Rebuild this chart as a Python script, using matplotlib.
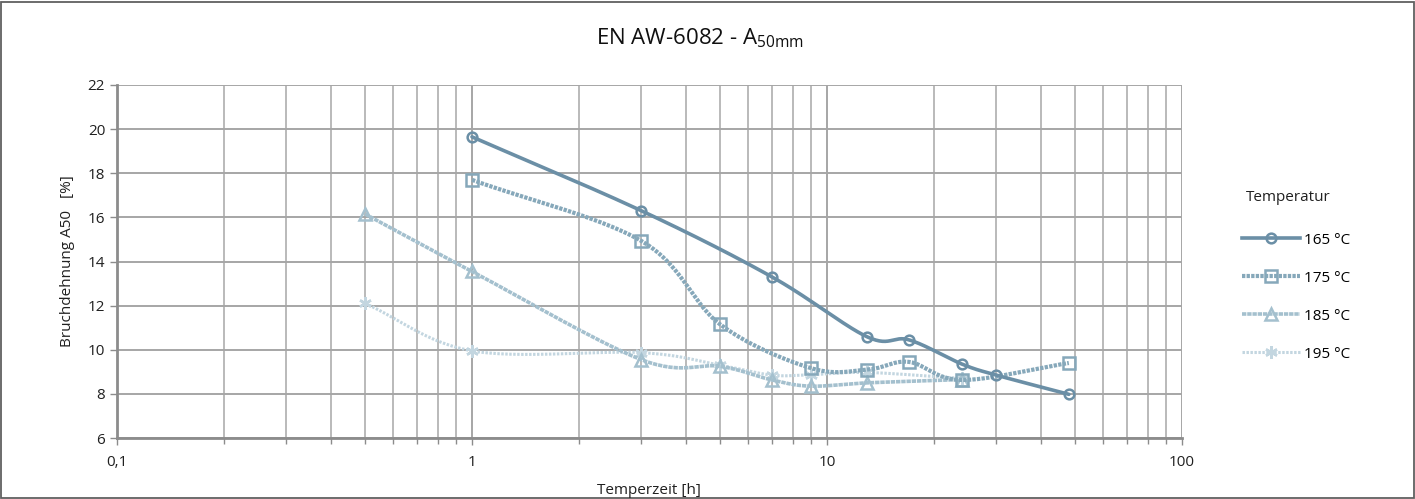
import numpy as np
import matplotlib
matplotlib.use("Agg")
import matplotlib.pyplot as plt
from matplotlib.lines import Line2D
from matplotlib.patches import Rectangle

plt.rcParams['font.family'] = ['Open Sans', 'DejaVu Sans']

# ---- data ----
series_names = ["165 °C", "175 °C", "185 °C", "195 °C"]
x_165 = [1, 3, 7, 13, 17, 24, 30, 48]
y_165 = [19.65, 16.3, 13.3, 10.58, 10.45, 9.35, 8.85, 7.98]
x_175 = [1, 3, 5, 9, 13, 17, 24, 48]
y_175 = [17.7, 14.93, 11.15, 9.17, 9.1, 9.45, 8.63, 9.4]
x_185 = [0.5, 1, 3, 5, 7, 9, 13, 24]
y_185 = [16.15, 13.55, 9.55, 9.25, 8.63, 8.35, 8.5, 8.65]
x_195 = [0.5, 1, 3, 5, 7, 9, 13, 24]
y_195 = [12.1, 9.95, 9.87, 9.3, 8.85, 8.87, 8.97, 8.7]
x_ticks = [0.1, 1, 10, 100]
x_ticklabels = ["0,1", "1", "10", "100"]
y_ticks = [6, 8, 10, 12, 14, 16, 18, 20, 22]


def smooth(xs, ys, n=30):
    """Catmull-Rom curve through the points in (log x, y) space for drawing."""
    lx = np.log10(np.asarray(xs, float))
    yy = np.asarray(ys, float)
    P = np.column_stack([lx, yy])
    P = np.vstack([P[0] - (P[1] - P[0]), P, P[-1] + (P[-1] - P[-2])])
    out = []
    for i in range(1, len(P) - 2):
        p0, p1, p2, p3 = P[i - 1], P[i], P[i + 1], P[i + 2]
        t = np.linspace(0, 1, n)[:, None]
        c = 0.5 * ((2 * p1) + (-p0 + p2) * t + (2 * p0 - 5 * p1 + 4 * p2 - p3) * t ** 2
                   + (-p0 + 3 * p1 - 3 * p2 + p3) * t ** 3)
        out.append(c if i == 1 else c[1:])
    c = np.vstack(out)
    return 10 ** c[:, 0], c[:, 1]


fig = plt.figure(figsize=(14.15, 4.99), dpi=100)
W, H = 1415, 499
ax = fig.add_axes([117 / W, 1 - 438 / H, (1182 - 117) / W, (438 - 85) / H])

# outer chart border
fig.patches.append(Rectangle((1.5 / W, 1.5 / H), 1 - 3 / W, 1 - 3 / H, transform=fig.transFigure,
                             fill=False, edgecolor='#606060', linewidth=1.3))

ax.set_xscale('log')
ax.set_xlim(0.1, 100)
ax.set_ylim(6, 22)
ax.set_xticks(x_ticks)
ax.set_xticklabels(x_ticklabels)
ax.set_yticks(y_ticks)
ax.xaxis.set_minor_locator(matplotlib.ticker.LogLocator(base=10, subs=np.arange(2, 10)))
ax.xaxis.set_minor_formatter(matplotlib.ticker.NullFormatter())

ax.grid(True, which='major', axis='both', color='#a6a6a6', linewidth=1.4)
ax.grid(True, which='minor', axis='x', color='#b4b4b4', linewidth=1.3)
ax.set_axisbelow(True)
for s in ['top', 'right']:
    ax.spines[s].set_visible(False)
for s in ['left', 'bottom']:
    ax.spines[s].set_color('#8c8c8c')
    ax.spines[s].set_linewidth(2)
ax.tick_params(axis='both', which='major', direction='out', length=5, width=1, color='#8c8c8c',
               labelsize=11, labelcolor='#202020')
ax.tick_params(axis='x', which='minor', direction='out', length=4, width=1, color='#8c8c8c')
ax.tick_params(axis='x', pad=7)

styles = [
    dict(color='#6b8fa6', lw=2.6, ls='-', marker='o', ms=7, mew=1.8),
    dict(color='#86a8ba', lw=3.0, ls=(0, (0.8, 0.3)), marker='s', ms=8, mew=1.8),
    dict(color='#a4c0ce', lw=2.6, ls=(0, (1.2, 0.25)), marker='^', ms=8, mew=1.8),
    dict(color='#c3d6e0', lw=2.2, ls=(0, (0.8, 0.5)), marker=(6, 2, 0), ms=9, mew=1.8),
]
data = [(x_165, y_165), (x_175, y_175), (x_185, y_185), (x_195, y_195)]
handles = []
for (xs, ys), st, name in zip(data[::-1], styles[::-1], series_names[::-1]):
    sx, sy = smooth(xs, ys)
    ax.plot(sx, sy, color=st['color'], lw=st['lw'], ls=st['ls'], solid_capstyle='round')
    ax.plot(xs, ys, ls='none', marker=st['marker'], ms=st['ms'], mew=st['mew'],
            mec=st['color'], mfc='none' if st['marker'] != (6, 2, 0) else st['color'])
for st, name in zip(styles, series_names):
    handles.append(Line2D([], [], color=st['color'], lw=st['lw'], ls=st['ls'], marker=st['marker'],
                          ms=st['ms'], mew=st['mew'], mec=st['color'],
                          mfc='none' if st['marker'] != (6, 2, 0) else st['color']))

fig.text(649 / W, 1 - 490 / H, 'Temperzeit [h]', ha='center', va='center', fontsize=11,
         color='#202020')
ax.set_ylabel('Bruchdehnung A50   [%]', fontsize=11, color='#202020', labelpad=9)
fig.text(700 / W, 1 - 38 / H, r'EN AW-6082 - A$_{\mathregular{50mm}}$',
         ha='center', va='center', fontsize=16, color='#101010')

fig.text(1288 / W, 1 - 197 / H, 'Temperatur', ha='center', va='center', fontsize=11, color='#202020')
leg = fig.legend(handles, series_names, loc='upper left', bbox_to_anchor=(1228 / W, 1 - 219 / H),
                 frameon=False, fontsize=11,
                 handlelength=3.8, labelspacing=1.5, handletextpad=0.3)

fig.savefig('out.png', dpi=100)
